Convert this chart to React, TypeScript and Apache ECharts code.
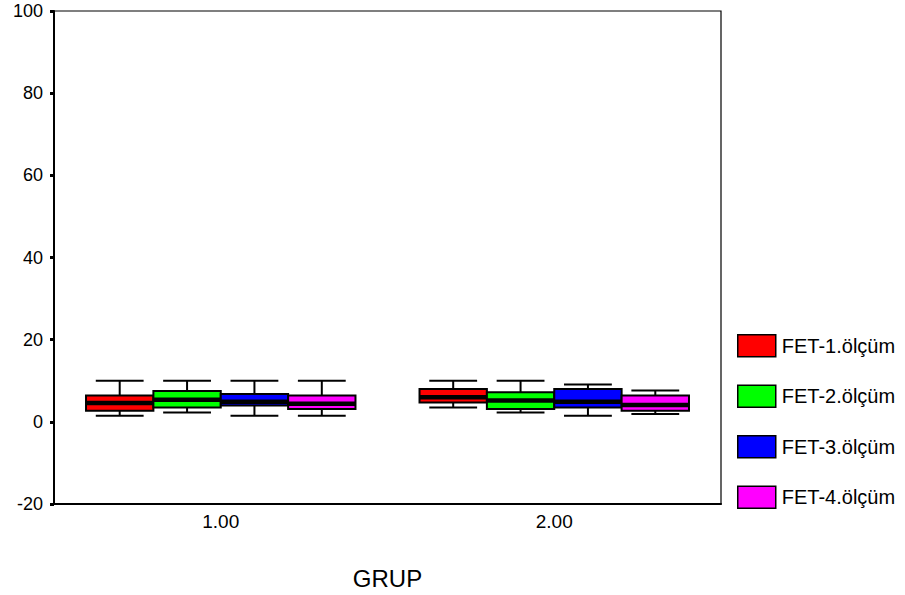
import React, { useEffect, useRef } from "react";
import * as echarts from "echarts";

const categories = ["1.00", "2.00"];
const seriesNames = ["FET-1.ölçüm", "FET-2.ölçüm", "FET-3.ölçüm", "FET-4.ölçüm"];
const seriesColors = ["#FF0000", "#00FF00", "#0000FF", "#FF00FF"];
// [min, q1, median, q3, max] per group
const fet1 = [
  [1.5, 2.7, 4.6, 6.4, 10],
  [3.5, 4.7, 6.0, 8.0, 10],
];
const fet2 = [
  [2.3, 3.5, 5.4, 7.5, 10],
  [2.3, 3.1, 5.2, 7.2, 10],
];
const fet3 = [
  [1.5, 4.0, 4.9, 6.8, 10],
  [1.5, 3.5, 4.9, 8.0, 9.1],
];
const fet4 = [
  [1.5, 3.1, 4.4, 6.4, 10],
  [1.9, 2.7, 4.1, 6.4, 7.6],
];
const allSeries = [fet1, fet2, fet3, fet4];
const yTicks = { min: -20, max: 100, interval: 20 };

const FONT = "'Liberation Sans', Arial, sans-serif";

export default function App() {
  const ref = useRef<HTMLDivElement>(null);
  useEffect(() => {
    if (!ref.current) return;
    const chart = echarts.init(ref.current, undefined, { renderer: "svg" });
    const series = allSeries.map((vals, k) => ({
      type: "custom",
      name: seriesNames[k],
      silent: true,
      itemStyle: { color: seriesColors[k], borderColor: "#000", borderWidth: 1.5 },
      encode: { x: 0, y: [1, 2, 3, 4, 5] },
      data: vals.map((v, i) => [i, ...v]),
      renderItem: (params: any, api: any) => {
        const xi = api.value(0);
        const band = api.size([1, 0])[0];
        const bw = band * 0.202;
        const center = api.coord([xi, 0])[0];
        const cx = center + (k - 1.5) * bw;
        const yMin = api.coord([xi, api.value(1)])[1];
        const yQ1 = api.coord([xi, api.value(2)])[1];
        const yMed = api.coord([xi, api.value(3)])[1];
        const yQ3 = api.coord([xi, api.value(4)])[1];
        const yMax = api.coord([xi, api.value(5)])[1];
        const capW = bw * 0.71;
        const ls = { stroke: "#000", lineWidth: 2 };
        return {
          type: "group",
          children: [
            { type: "line", shape: { x1: cx, y1: yMax, x2: cx, y2: yQ3 }, style: ls },
            { type: "line", shape: { x1: cx, y1: yQ1, x2: cx, y2: yMin }, style: ls },
            { type: "line", shape: { x1: cx - capW / 2, y1: yMax, x2: cx + capW / 2, y2: yMax }, style: ls },
            { type: "line", shape: { x1: cx - capW / 2, y1: yMin, x2: cx + capW / 2, y2: yMin }, style: ls },
            {
              type: "rect",
              shape: { x: cx - bw / 2, y: yQ3, width: bw, height: yQ1 - yQ3 },
              style: { fill: seriesColors[k], stroke: "#000", lineWidth: 2 },
            },
            {
              type: "line",
              shape: { x1: cx - bw / 2, y1: yMed, x2: cx + bw / 2, y2: yMed },
              style: { stroke: "#000", lineWidth: 4.5 },
            },
          ],
        };
      },
    }));
    chart.setOption({
      animation: false,
      backgroundColor: "#fff",
      textStyle: { fontFamily: FONT },
      grid: {
        left: 54,
        right: 184,
        top: 11,
        bottom: 91,
        show: true,
        borderColor: "#000",
        borderWidth: 1.2,
        backgroundColor: "transparent",
        outerBoundsMode: "none",
      },
      legend: {
        orient: "vertical",
        left: 737,
        top: 334,
        padding: 0,
        itemWidth: 38,
        itemHeight: 22,
        itemGap: 27,
        icon: "rect",
        selectedMode: false,
        textStyle: { fontFamily: FONT, fontSize: 20, color: "#000", padding: [0, 0, 0, 1] },
        data: seriesNames.map((n, k) => ({
          name: n,
          itemStyle: { color: seriesColors[k], borderColor: "#000", borderWidth: 1.5 },
        })),
      },
      xAxis: {
        type: "category",
        data: categories,
        name: "GRUP",
        nameLocation: "middle",
        nameGap: 62,
        nameTextStyle: { fontFamily: FONT, fontSize: 24, color: "#000" },
        axisLine: { onZero: false, lineStyle: { color: "#000", width: 2 } },
        axisTick: { alignWithLabel: true, length: 4, lineStyle: { color: "#000", width: 3 } },
        axisLabel: { fontFamily: FONT, fontSize: 19, color: "#000", margin: 8 },
        splitLine: { show: false },
      },
      yAxis: {
        type: "value",
        min: yTicks.min,
        max: yTicks.max,
        interval: yTicks.interval,
        axisLine: { show: true, lineStyle: { color: "#000", width: 2 } },
        axisTick: { show: true, length: 4, lineStyle: { color: "#000", width: 3 } },
        axisLabel: { fontFamily: FONT, fontSize: 18, lineHeight: 16, color: "#000", margin: 11 },
        splitLine: { show: false },
      },
      series,
    });
    return () => chart.dispose();
  }, []);
  return (
    <div
      ref={ref}
      style={{ position: "fixed", left: 0, top: 0, width: 905, height: 595, background: "#fff" }}
    />
  );
}
